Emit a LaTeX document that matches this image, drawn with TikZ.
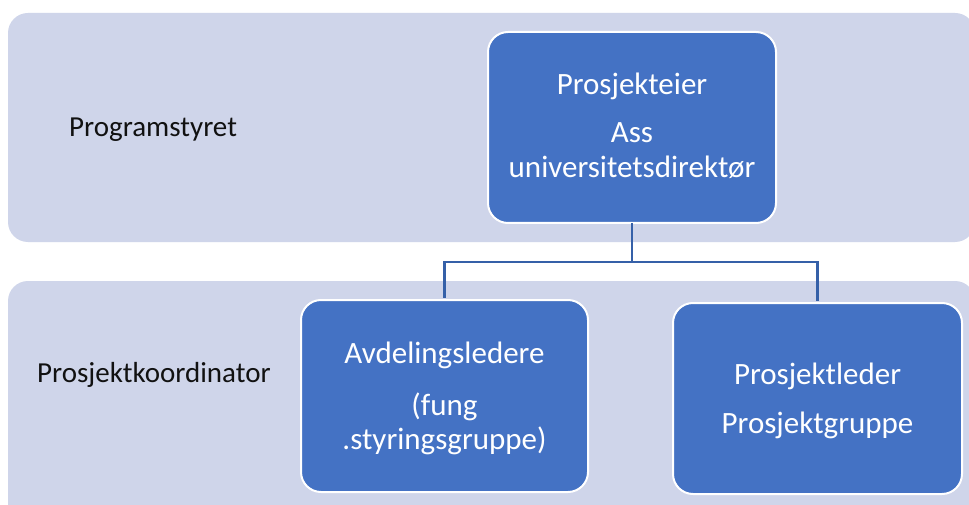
\documentclass[tikz,border=0pt]{standalone}
\usepackage{fontspec}
\setmainfont{Carlito}
\definecolor{bandc}{HTML}{CFD5EA}
\definecolor{boxc}{HTML}{4472C4}
\definecolor{connc}{HTML}{3560A8}
\definecolor{labc}{HTML}{111111}
\tikzset{
  band/.style={fill=bandc, draw=none, rounded corners=20pt},
  orgbox/.style={draw=white, line width=2pt, fill=boxc, rounded corners=20pt, inner sep=0pt},
  boxtext/.style={text=white, inner sep=0pt, anchor=base, font=\fontsize{31}{35}\selectfont},
  bandlabel/.style={text=labc, inner sep=0pt, anchor=base west, font=\fontsize{29}{35}\selectfont},
  conn/.style={draw=connc, line width=2.2pt}
}
\begin{document}
\begin{tikzpicture}[x=1pt, y=-1pt]
\useasboundingbox (0,0) rectangle (969,505);
\clip (0,0) rectangle (969,505);
\fill[white] (0,0) rectangle (969,505);
% bands
\path[band] (8,13) rectangle (975,242);
\path[band] (8,281) rectangle (975,540);
% band labels
\node[bandlabel] (l1) at (69,137) {Programstyret};
\node[bandlabel] (l2) at (37,382) {Prosjektkoordinator};
% boxes
\node[orgbox, minimum width=288pt, minimum height=191pt] (pe) at (632,127.5) {};
\node[orgbox, minimum width=287pt, minimum height=192pt] (al) at (444.5,396) {};
\node[orgbox, minimum width=289pt, minimum height=191pt] (pl) at (817.5,398.5) {};
% box texts
\node[boxtext] (pe1) at (632,95) {Prosjekteier};
\node[boxtext] (pe2) at (632,143) {Ass};
\node[boxtext] (pe3) at (632,178) {universitetsdirektør};
\node[boxtext] (al1) at (444.5,363) {Avdelingsledere};
\node[boxtext] (al2) at (444.5,415) {(fung};
\node[boxtext] (al3) at (444.5,449) {.styringsgruppe)};
\node[boxtext] (pl1) at (817.5,384) {Prosjektleder};
\node[boxtext] (pl2) at (817.5,433) {Prosjektgruppe};
% connectors
\coordinate (fork) at (632,262);
\draw[conn] ([yshift=1pt]pe.south) -- (fork) -| ([yshift=1pt]al.north);
\draw[conn] (fork) -| ([yshift=1pt]pl.north);
\end{tikzpicture}
\end{document}
